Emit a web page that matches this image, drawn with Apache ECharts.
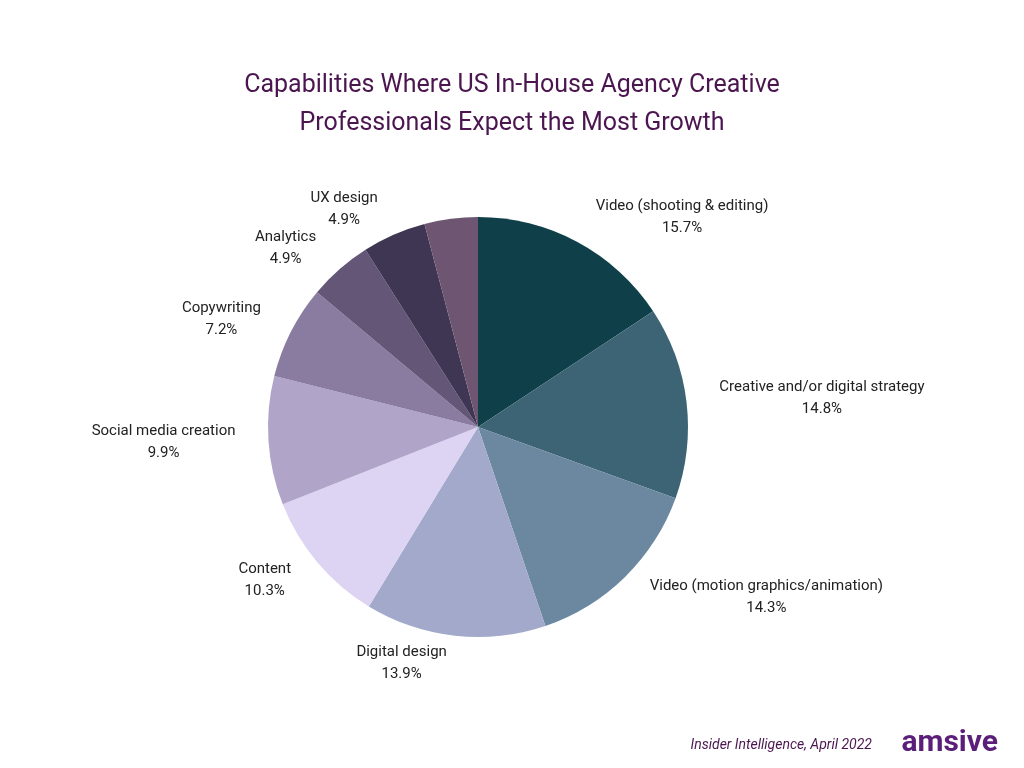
<!DOCTYPE html>
<html><head><meta charset="utf-8">
<script src="https://cdn.jsdelivr.net/npm/echarts@6/dist/echarts.min.js"></script>
<style>html,body{margin:0;background:#fff}#c{width:1024px;height:768px}</style>
</head><body><div id="c"></div>
<script>
var names = ['Video (shooting & editing)','Creative and/or digital strategy','Video (motion graphics/animation)','Digital design','Content','Social media creation','Copywriting','Analytics','UX design',''];
var values = [15.7,14.8,14.3,13.9,10.3,9.9,7.2,4.9,4.9,4.1];
var colors = ['#0f4049','#3d6474','#6c88a0','#a3a9cb','#ddd3f2','#b1a4c9','#8a7ca0','#635677','#3e3652','#6e5672'];

var chart = echarts.init(document.getElementById('c'));
var data = names.map(function(n, i){
  return {name: n, value: values[i], label: {show: n !== ''}};
});
chart.setOption({
  color: colors,
  title: {
    text: 'Capabilities Where US In-House Agency Creative\nProfessionals Expect the Most Growth',
    left: 'center', top: 62,
    textStyle: {fontFamily: 'Roboto', fontSize: 25, fontWeight: 'normal', color: '#4b1650', lineHeight: 38}
  },
  graphic: [
    {type: 'text', right: 152, top: 738, style: {text: 'Insider Intelligence, April 2022', font: 'italic 14px Roboto', fill: '#4b1650'}},
    {type: 'text', right: 26, top: 728, style: {text: 'amsive', font: 'bold 30px Roboto', fill: '#5b1f7a'}}
  ],
  series: [{
    type: 'pie',
    center: [478, 427],
    radius: 210,
    startAngle: 90,
    data: data,
    label: {
      position: 'outside',
      formatter: '{a|{b}}\n{a|{c}%}',
      rich: {a: {align: 'center', fontFamily: 'Roboto', fontSize: 15, color: '#222', lineHeight: 22}}
    },
    labelLine: {show: false, length: 28, length2: 0},
    itemStyle: {borderColor: '#fff', borderWidth: 0}
  }]
});
</script></body></html>
